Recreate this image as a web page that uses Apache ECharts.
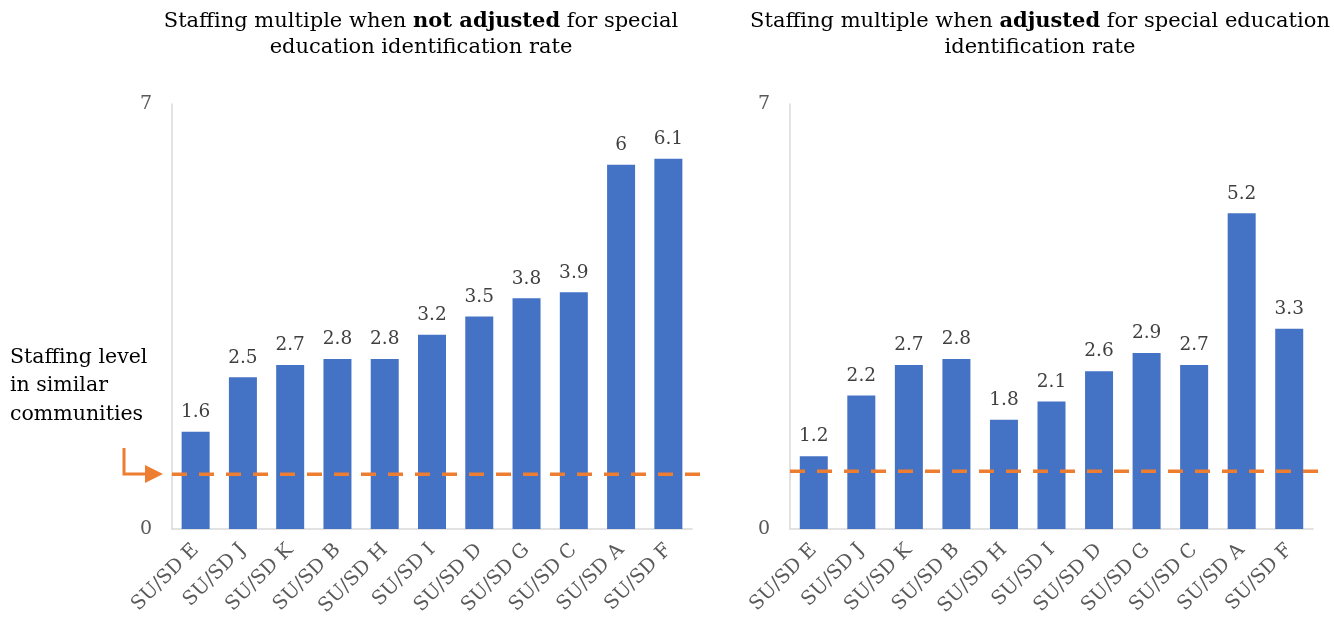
<!DOCTYPE html>
<html><head><meta charset="utf-8">
<script src="https://cdn.jsdelivr.net/npm/echarts@6/dist/echarts.min.js"></script>
<style>html,body{margin:0;padding:0;background:#fff}#c{width:1334px;height:630px}</style>
</head><body><div id="c"></div>
<script>
const categories = ['SU/SD E','SU/SD J','SU/SD K','SU/SD B','SU/SD H','SU/SD I','SU/SD D','SU/SD G','SU/SD C','SU/SD A','SU/SD F'];
const notAdjusted = [1.6, 2.5, 2.7, 2.8, 2.8, 3.2, 3.5, 3.8, 3.9, 6, 6.1];
const adjusted = [1.2, 2.2, 2.7, 2.8, 1.8, 2.1, 2.6, 2.9, 2.7, 5.2, 3.3];
const similarLevelLeft = 0.9;
const similarLevelRight = 0.95;
const yTicks = [0, 7];

const FONT = 'DejaVu Serif';
const chart = echarts.init(document.getElementById('c'));
const titleRich = {
  n: {fontFamily: FONT, fontSize: 21, color: '#000', fontWeight: 'normal', lineHeight: 26},
  b: {fontFamily: FONT, fontSize: 21, color: '#000', fontWeight: 'bold', lineHeight: 26}
};
function xAx(gi){
  return {gridIndex: gi, type: 'category', data: categories,
    axisTick: {show: false},
    axisLine: {lineStyle: {color: '#D9D9D9', width: 1.5}},
    axisLabel: {rotate: 45, fontFamily: FONT, fontSize: 19.5, color: '#595959', margin: 18, interval: 0}};
}
function yAx(gi){
  return {gridIndex: gi, type: 'value', min: yTicks[0], max: yTicks[1], interval: yTicks[1]-yTicks[0],
    splitLine: {show: false}, axisTick: {show: false},
    axisLine: {show: true, lineStyle: {color: '#D9D9D9', width: 1.5}},
    axisLabel: {fontFamily: FONT, fontSize: 19, color: '#595959', margin: 20}};
}
function barS(gi, data){
  return {type: 'bar', xAxisIndex: gi, yAxisIndex: gi, data: data, barWidth: 28,
    itemStyle: {color: '#4472C4'},
    label: {show: true, position: 'top', distance: 10, fontFamily: FONT, fontSize: 18.5, color: '#404040'}};
}
function dashS(gi, v){
  return {type: 'line', xAxisIndex: gi, yAxisIndex: gi, data: [[0, v], [1, v]], symbol: 'none', silent: true,
    lineStyle: {color: '#ED7D31', width: 3.5, type: [15, 12]}, z: 5};
}
chart.setOption({
  animation: false,
  title: [
    {text: '{n|Staffing multiple when }{b|not adjusted}{n| for special}\n{n|education identification rate}',
     left: 416, top: 4, textAlign: 'center', textStyle: {rich: titleRich}},
    {text: '{n|Staffing multiple when }{b|adjusted}{n| for special education}\n{n|identification rate}',
     left: 1035, top: 4, textAlign: 'center', textStyle: {rich: titleRich}}
  ],
  grid: [
    {left: 172, width: 520, top: 104, height: 425},
    {left: 790, width: 523, top: 104, height: 425},
    {left: 172, width: 540, top: 104, height: 425},
    {left: 790, width: 536, top: 104, height: 425}
  ],
  xAxis: [xAx(0), xAx(1),
    {gridIndex: 2, type: 'value', min: 0, max: 1, show: false},
    {gridIndex: 3, type: 'value', min: 0, max: 1, show: false}],
  yAxis: [yAx(0), yAx(1),
    {gridIndex: 2, type: 'value', min: 0, max: 7, show: false},
    {gridIndex: 3, type: 'value', min: 0, max: 7, show: false}],
  series: [barS(0, notAdjusted), barS(1, adjusted), dashS(2, similarLevelLeft), dashS(3, similarLevelRight)],
  graphic: [
    {type: 'text', left: 10, top: 343, style: {text: 'Staffing level\nin similar\ncommunities',
      font: '20.5px "DejaVu Serif"', fill: '#000', lineHeight: 28.5}},
    {type: 'polyline', shape: {points: [[124, 448], [124, 474], [148, 474]]},
      style: {stroke: '#ED7D31', lineWidth: 3, fill: null}},
    {type: 'polygon', shape: {points: [[145, 465], [163, 474], [145, 483]]},
      style: {fill: '#ED7D31'}}
  ]
});
</script></body></html>
